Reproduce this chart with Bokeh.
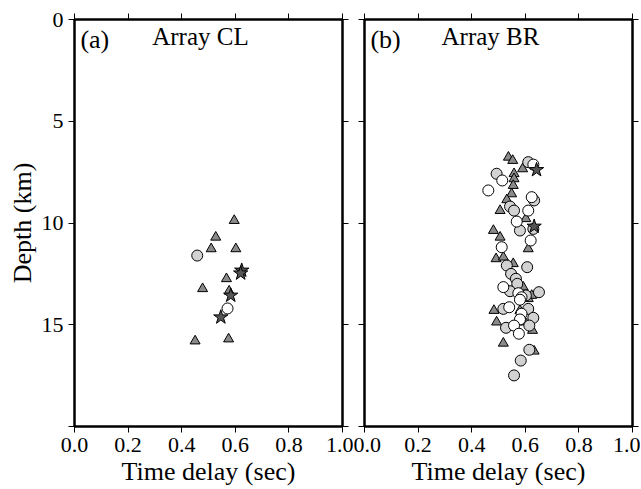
from bokeh.plotting import figure
from bokeh.models import Range1d, LinearAxis, FixedTicker, Label
from bokeh.layouts import row
from bokeh.embed import file_html
from bokeh.resources import INLINE

# ---------------- data ----------------
# Panel (a) Array CL
a_tri_delay = [0.596, 0.527, 0.510, 0.602, 0.567, 0.478, 0.577, 0.450, 0.575]
a_tri_depth = [9.88, 10.70, 11.27, 11.27, 12.74, 13.23, 13.35, 15.80, 15.70]
a_gcirc_delay = [0.458]
a_gcirc_depth = [11.60]
a_wcirc_delay = [0.571]
a_wcirc_depth = [14.20]
a_star_delay = [0.624, 0.620, 0.583, 0.546]
a_star_depth = [12.33, 12.47, 13.56, 14.63]

# Panel (b) Array BR
b_tri_delay = [0.537, 0.553, 0.590, 0.558, 0.558, 0.555, 0.549, 0.531, 0.506, 0.602,
               0.481, 0.506, 0.611, 0.491, 0.518, 0.555, 0.592, 0.624, 0.611, 0.483,
               0.580, 0.493, 0.599, 0.627, 0.518, 0.633]
b_tri_depth = [6.77, 6.93, 7.34, 7.58, 7.83, 8.16, 8.57, 8.86, 9.39, 9.79,
               10.37, 10.70, 11.27, 11.76, 11.68, 12.00, 13.15, 13.56, 13.72, 14.30,
               14.30, 14.87, 14.87, 15.28, 15.91, 16.30]
b_gcirc_delay = [0.611, 0.493, 0.633, 0.543, 0.558, 0.580, 0.630, 0.531, 0.607, 0.547,
                 0.565, 0.570, 0.543, 0.602, 0.651, 0.518, 0.611, 0.630, 0.528, 0.615,
                 0.615, 0.583, 0.558]
b_gcirc_depth = [7.01, 7.58, 8.89, 9.19, 9.39, 10.37, 10.29, 12.09, 12.17, 12.50,
                 12.74, 12.99, 13.35, 13.56, 13.40, 14.22, 14.22, 14.66, 15.15, 15.04,
                 16.23, 16.76, 17.49]
b_wcirc_delay = [0.630, 0.514, 0.462, 0.624, 0.611, 0.568, 0.620, 0.512, 0.518, 0.574,
                 0.586, 0.580, 0.540, 0.586, 0.580, 0.558, 0.576]
b_wcirc_depth = [7.13, 7.91, 8.40, 8.73, 9.39, 9.93, 10.86, 11.19, 13.15, 13.45,
                 13.65, 13.77, 14.14, 14.46, 14.74, 15.04, 15.44]
b_star_delay = [0.642, 0.633]
b_star_depth = [7.39, 10.17]

x_ticks = [0.0, 0.2, 0.4, 0.6, 0.8, 1.0]
x_tick_labels = ["0.0", "0.2", "0.4", "0.6", "0.8", "1.0"]
y_ticks = [0, 5, 10, 15, 20]
y_tick_labels = ["0", "5", "10", "15", ""]

FONT = "Liberation Serif"
TICK_FONT = "'Liberation Serif', serif"
TRI_COLOR = "#8a8a8a"
GCIRC_COLOR = "#d2d2d2"
STAR_COLOR = "#555555"


def style_axis(ax, show_labels):
    ax.axis_line_width = 2
    ax.axis_line_color = "black"
    ax.major_tick_line_color = "black"
    ax.major_tick_line_width = 1
    ax.major_tick_out = 6
    ax.major_tick_in = 0
    ax.minor_tick_line_color = None
    ax.major_label_text_font = TICK_FONT
    ax.major_label_text_font_style = "normal"
    ax.major_label_standoff = 5
    if show_labels:
        ax.major_label_text_font_size = "22px"
        ax.major_label_text_color = "black"
    else:
        ax.major_label_text_font_size = "0px"
        ax.major_label_text_color = None
    ax.axis_label_text_font = FONT
    ax.axis_label_text_font_size = "26px"
    ax.axis_label_text_font_style = "normal"
    ax.axis_label_text_color = "black"
    ax.axis_label_standoff = 2


def make_panel(tag, title, tri, gc, wc, st, left_labels, bl, br):
    p = figure(frame_width=268, frame_height=407,
               min_border_left=bl, min_border_right=br,
               min_border_top=19, min_border_bottom=63,
               x_range=Range1d(0, 1), y_range=Range1d(20, 0),
               output_backend="svg", toolbar_location=None,
               background_fill_color="white", border_fill_color="white")
    p.grid.visible = False
    p.outline_line_color = "black"
    p.outline_line_width = 2

    p.xaxis.ticker = FixedTicker(ticks=x_ticks)
    p.xaxis.major_label_overrides = dict(zip(x_ticks, x_tick_labels))
    p.yaxis.ticker = FixedTicker(ticks=y_ticks)
    p.yaxis.major_label_overrides = dict(zip(y_ticks, y_tick_labels))
    style_axis(p.xaxis[0], True)
    style_axis(p.yaxis[0], left_labels)
    p.xaxis.axis_label = "Time delay (sec)"
    if left_labels:
        p.yaxis.axis_label = "Depth (km)"

    top = LinearAxis(ticker=FixedTicker(ticks=x_ticks))
    style_axis(top, False)
    p.add_layout(top, "above")
    right = LinearAxis(ticker=FixedTicker(ticks=y_ticks))
    style_axis(right, False)
    p.add_layout(right, "right")

    p.scatter(tri[0], tri[1], marker="triangle", size=10, fill_color=TRI_COLOR,
              line_color="black", line_width=1)
    p.scatter(gc[0], gc[1], marker="circle", size=11, fill_color=GCIRC_COLOR,
              line_color="black", line_width=1)
    p.scatter(wc[0], wc[1], marker="circle", size=11, fill_color="white",
              line_color="black", line_width=1)
    p.scatter(st[0], st[1], marker="star", size=15, fill_color=STAR_COLOR,
              line_color="black", line_width=1)

    p.add_layout(Label(x=0.022, y=1.0, text=tag, text_font=FONT,
                       text_font_size="26px", text_baseline="middle",
                       text_align="left", text_color="black"))
    p.add_layout(Label(x=0.47, y=0.85, text=title, text_font=FONT,
                       text_font_size="25px", text_baseline="middle",
                       text_align="center", text_color="black"))
    return p


pa = make_panel("(a)", "Array CL",
                (a_tri_delay, a_tri_depth), (a_gcirc_delay, a_gcirc_depth),
                (a_wcirc_delay, a_wcirc_depth), (a_star_delay, a_star_depth),
                True, 74, 11)
pb = make_panel("(b)", "Array BR",
                (b_tri_delay, b_tri_depth), (b_gcirc_delay, b_gcirc_depth),
                (b_wcirc_delay, b_wcirc_depth), (b_star_delay, b_star_depth),
                False, 11, 8)

layout = row(pa, pb, spacing=0)
open("out.html", "w").write(file_html(layout, INLINE))
